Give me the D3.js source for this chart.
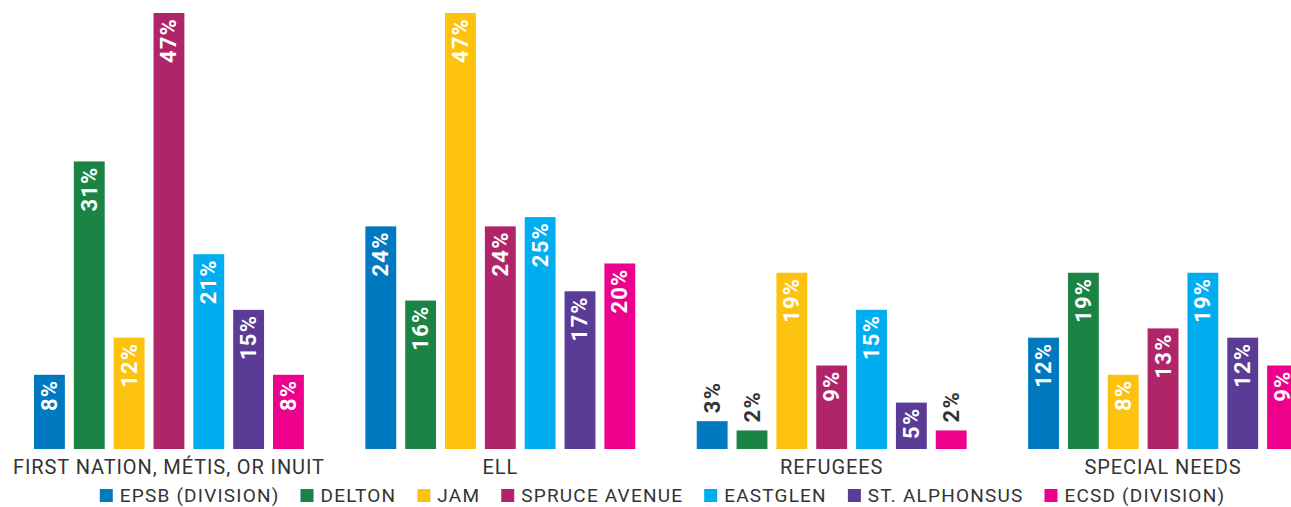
<!DOCTYPE html>
<html>
<head>
<meta charset="utf-8">
<script src="https://cdn.jsdelivr.net/npm/d3@7"></script>
<style>
  html, body { margin: 0; padding: 0; background: #fff; }
  svg { display: block; }
  text { font-family: Roboto, "Open Sans", sans-serif; }
</style>
</head>
<body>
<svg id="chart" width="1291" height="507"></svg>
<script>
// Student population groups
const categories = ["FIRST NATION, MÉTIS, OR INUIT", "ELL", "REFUGEES", "SPECIAL NEEDS"];

// Schools / divisions (legend order)
const schools = ["EPSB (DIVISION)", "DELTON", "JAM", "SPRUCE AVENUE", "EASTGLEN", "ST. ALPHONSUS", "ECSD (DIVISION)"];
const schoolColors = ["#0079c1", "#1b8445", "#fdc20e", "#b0256a", "#00aeef", "#5a3b96", "#ec008c"];

// Percentages per school, one entry per category
const epsb      = [8, 24, 3, 12];
const delton    = [31, 16, 2, 19];
const jam       = [12, 47, 19, 8];
const spruce    = [47, 24, 9, 13];
const eastglen  = [21, 25, 15, 19];
const alphonsus = [15, 17, 5, 12];
const ecsd      = [8, 20, 2, 9];

const seriesValues = [epsb, delton, jam, spruce, eastglen, alphonsus, ecsd];

const svg = d3.select("#chart");

const baseline = 449;
const x0 = d3.scaleBand().domain(categories).range([34, 1298]).paddingInner(0.1855).paddingOuter(0);
const x1 = d3.scaleBand().domain(schools).range([0, x0.bandwidth()]).paddingInner(0.225);
const y = d3.scaleLinear().domain([0, 47]).range([baseline, 13]);
const color = d3.scaleOrdinal().domain(schools).range(schoolColors);

const rows = [];
categories.forEach((c, ci) => {
  schools.forEach((s, si) => {
    rows.push({ category: c, school: s, value: seriesValues[si][ci] });
  });
});

const groups = svg.append("g").selectAll("g")
  .data(categories)
  .join("g")
  .attr("transform", d => `translate(${x0(d)},0)`);

groups.selectAll("rect")
  .data(c => rows.filter(r => r.category === c))
  .join("rect")
  .attr("x", d => x1(d.school))
  .attr("y", d => y(d.value))
  .attr("width", x1.bandwidth())
  .attr("height", d => baseline - y(d.value))
  .attr("fill", d => color(d.school));

// Value labels, rotated, inside the bar when it fits, otherwise above it
groups.selectAll("text.value")
  .data(c => rows.filter(r => r.category === c))
  .join("text")
  .attr("class", "value")
  .text(d => d.value + "%")
  .style("font-size", "22px")
  .style("font-weight", "700")
  .style("letter-spacing", "1.2px")
  .attr("dominant-baseline", "central")
  .each(function (d) {
    const t = d3.select(this);
    const len = this.getComputedTextLength();
    const cx = x1(d.school) + x1.bandwidth() / 2;
    const top = y(d.value);
    const inside = (baseline - top) > len + 8;
    if (inside) {
      t.attr("text-anchor", "end")
        .attr("fill", "#ffffff")
        .attr("transform", `translate(${cx},${top + 5}) rotate(-90)`);
    } else {
      t.attr("text-anchor", "start")
        .attr("fill", "#333333")
        .attr("transform", `translate(${cx},${top - 8}) rotate(-90)`);
    }
  });

// Category labels
svg.append("g").selectAll("text")
  .data(categories)
  .join("text")
  .attr("x", d => x0(d) + x0.bandwidth() / 2)
  .attr("y", 474)
  .attr("text-anchor", "middle")
  .attr("fill", "#333333")
  .style("font-size", "20px")
  .style("letter-spacing", "0.9px")
  .text(d => d);

// Legend, laid out left to right and centred
const legend = svg.append("g");
const items = legend.selectAll("g")
  .data(schools)
  .join("g");
items.append("rect")
  .attr("width", 13)
  .attr("height", 13)
  .attr("y", 489)
  .attr("fill", d => color(d));
items.append("text")
  .attr("x", 20)
  .attr("y", 502)
  .attr("fill", "#333333")
  .style("font-size", "19px")
  .style("letter-spacing", "1.2px")
  .text(d => d);

let cursor = 0;
items.each(function () {
  const g = d3.select(this);
  g.attr("transform", `translate(${cursor},0)`);
  const w = 20 + g.select("text").node().getComputedTextLength();
  cursor += w + 21;
});
const total = cursor - 21;
legend.attr("transform", `translate(${662.5 - total / 2},0)`);
</script>
</body>
</html>
